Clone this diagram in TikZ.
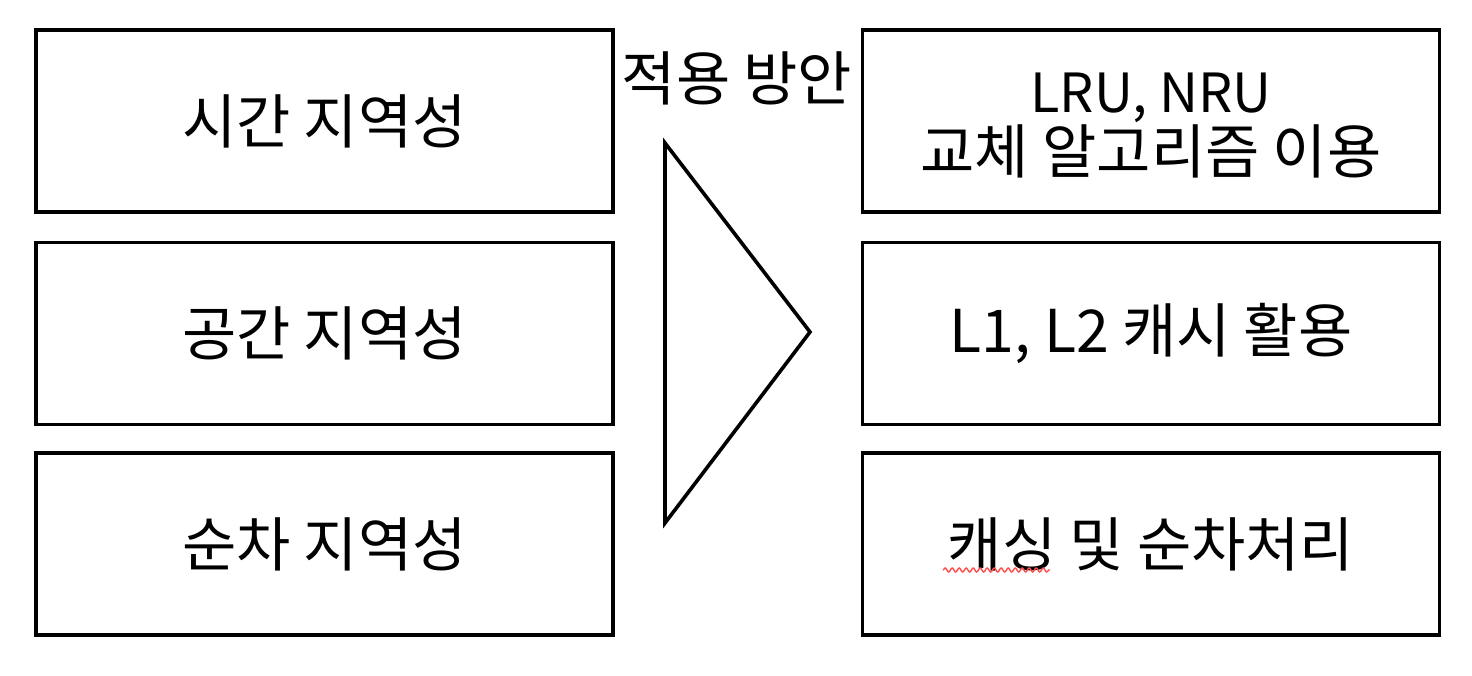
\documentclass[tikz,border=0pt]{standalone}
\usepackage{fontspec}
\setmainfont{Noto Sans CJK KR}
\usetikzlibrary{decorations.pathmorphing}
\begin{document}
\begin{tikzpicture}[x=1pt,y=-1pt,
  box/.style={draw=black,line width=3.5pt,minimum width=577pt,minimum height=182pt,inner sep=0pt,align=center,font=\fontsize{59}{61}\selectfont},
  lbl/.style={font=\fontsize{59}{61}\selectfont,inner sep=0pt}]
\useasboundingbox (0,0) rectangle (1472,676);
\node[box] (l1) at (324.5,121) {시간 지역성};
\node[box] (l2) at (324.5,333.5) {공간 지역성};
\node[box] (l3) at (324.5,544) {순차 지역성};
\node[box] (r1) at (1151,121) {};
\node[align=center,inner sep=0pt,font=\fontsize{59}{61}\selectfont] (r1t) at ([yshift=-5pt]r1.center) {{\fontsize{54}{61}\selectfont LRU, NRU}\\교체 알고리즘 이용};
\node[box] (r2) at (1151,333.5) {L1, L2 캐시 활용};
\node[box] (r3) at (1151,544) {캐싱 및 순차처리};
\coordinate (t1) at (665,143);
\coordinate (t2) at (810,332);
\coordinate (t3) at (665,523);
\draw[line width=3.6pt,line join=miter] (t1) -- (t2) -- (t3) -- cycle;
\node[lbl] (lab) at (737,78) {적용 방안};
\coordinate (w1) at (943,570);
\coordinate (w2) at (1050,570);
\draw[red!70,line width=1.4pt,decorate,decoration={snake,amplitude=2pt,segment length=7pt}] (w1) -- (w2);
\end{tikzpicture}
\end{document}
